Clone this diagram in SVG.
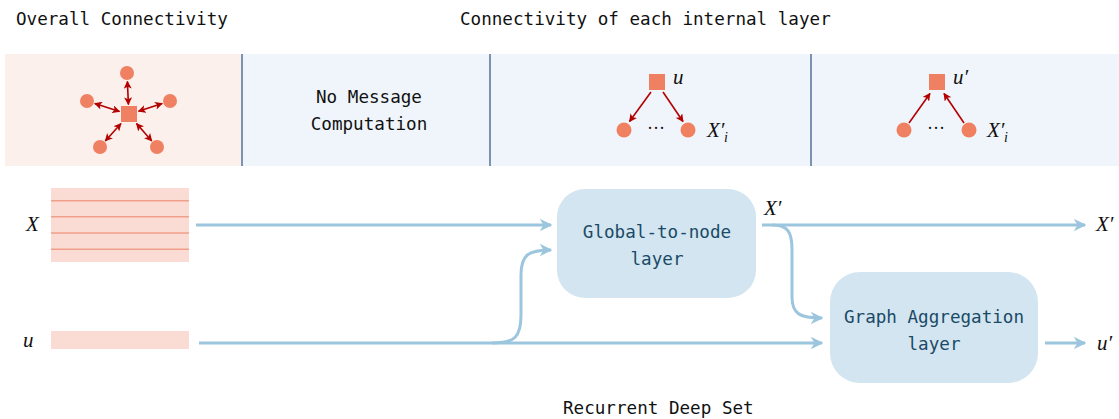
<svg xmlns="http://www.w3.org/2000/svg" width="1119" height="419" viewBox="0 0 1119 419">
<defs>
<style>
.mono{font-family:"DejaVu Sans Mono","Liberation Mono",monospace;font-size:17.6px;fill:#111;}
.box{font-family:"DejaVu Sans Mono","Liberation Mono",monospace;font-size:17.6px;fill:#1b4a66;text-anchor:middle;}
.math{font-family:"Liberation Serif","DejaVu Serif",serif;font-style:italic;font-size:21px;fill:#111;}
.sub{font-family:"Liberation Serif","DejaVu Serif",serif;font-style:italic;font-size:14px;fill:#111;}
.red{stroke:#b30000;stroke-width:1.6;fill:none;}
.blue{stroke:#9cc6dd;stroke-width:3;fill:none;}
.node{fill:#f08062;}
.div{stroke:#7b93b0;stroke-width:2;}
.row{stroke:#f0a08a;stroke-width:1.6;}
.layer{fill:#d2e5f0;}
</style>
<marker id="rh" viewBox="0 0 10 10" refX="9" refY="5" markerWidth="5" markerHeight="5" orient="auto-start-reverse" markerUnits="strokeWidth">
<path d="M0,0 L10,5 L0,10 L2.5,5 Z" fill="#b30000"/>
</marker>
<marker id="bh" viewBox="0 0 10 10" refX="9" refY="5" markerWidth="4.2" markerHeight="4.2" orient="auto" markerUnits="strokeWidth">
<path d="M0,0 L10,5 L0,10 L3,5 Z" fill="#9cc6dd"/>
</marker>
</defs>
<rect width="1119" height="419" fill="#ffffff"/>

<g id="headers">
<text class="mono" x="16" y="25">Overall Connectivity</text>
<text class="mono" x="460" y="25">Connectivity of each internal layer</text>
<text class="mono" x="563" y="414">Recurrent Deep Set</text>
</g>

<g id="panel-overall">
<rect x="5" y="54" width="237" height="112" fill="#fbf0eb"/>
<circle class="node" cx="127" cy="73" r="7"/>
<circle class="node" cx="87" cy="101" r="7"/>
<circle class="node" cx="170" cy="101" r="7"/>
<circle class="node" cx="100" cy="147" r="7"/>
<circle class="node" cx="157" cy="147" r="7"/>
<rect class="node" x="121" y="106" width="16" height="16"/>
<line class="red" x1="127.4" y1="81.5" x2="128.4" y2="104.5" marker-start="url(#rh)" marker-end="url(#rh)"/>
<line class="red" x1="94.8" y1="103.4" x2="119.5" y2="111.5" marker-start="url(#rh)" marker-end="url(#rh)"/>
<line class="red" x1="162.2" y1="103.5" x2="138.5" y2="111.2" marker-start="url(#rh)" marker-end="url(#rh)"/>
<line class="red" x1="105.3" y1="141" x2="121" y2="123.5" marker-start="url(#rh)" marker-end="url(#rh)"/>
<line class="red" x1="151.8" y1="141" x2="136.5" y2="123.5" marker-start="url(#rh)" marker-end="url(#rh)"/>
</g>

<g id="panel-nomsg">
<rect x="242" y="54" width="248" height="112" fill="#eff5fa"/>
<text class="mono" x="369" y="103" text-anchor="middle">No Message</text>
<text class="mono" x="369" y="130" text-anchor="middle">Computation</text>
</g>

<g id="panel-broadcast">
<rect x="490" y="54" width="321" height="112" fill="#eff5fa"/>
<rect class="node" x="649" y="74" width="16" height="16"/>
<circle class="node" cx="624" cy="130" r="7.5"/>
<circle class="node" cx="688" cy="130" r="7.5"/>
<text x="656" y="134" font-family="Liberation Serif,serif" font-size="18" fill="#111" text-anchor="middle">···</text>
<line class="red" x1="651" y1="92" x2="629.5" y2="121.5" marker-end="url(#rh)"/>
<line class="red" x1="663" y1="92" x2="683" y2="121.5" marker-end="url(#rh)"/>
<text class="math" x="673" y="84">u</text>
<text class="math" x="707" y="137">X′</text>
<text class="sub" x="724" y="142">i</text>
</g>

<g id="panel-aggregate">
<rect x="811" y="54" width="308" height="112" fill="#eff5fa"/>
<rect class="node" x="929" y="74" width="16" height="16"/>
<circle class="node" cx="904" cy="130" r="7.5"/>
<circle class="node" cx="969" cy="130" r="7.5"/>
<text x="936" y="134" font-family="Liberation Serif,serif" font-size="18" fill="#111" text-anchor="middle">···</text>
<line class="red" x1="909" y1="123" x2="930" y2="93.5" marker-end="url(#rh)"/>
<line class="red" x1="964" y1="123" x2="944" y2="93.5" marker-end="url(#rh)"/>
<text class="math" x="953" y="84">u′</text>
<text class="math" x="987" y="137">X′</text>
<text class="sub" x="1004" y="142">i</text>
</g>

<g id="dividers">
<line class="div" x1="242" y1="54" x2="242" y2="166"/>
<line class="div" x1="490" y1="54" x2="490" y2="166"/>
<line class="div" x1="811" y1="54" x2="811" y2="166"/>
</g>

<g id="input-X">
<rect x="51" y="188" width="138" height="74" fill="#fadcd4"/>
<line class="row" x1="51" y1="200.7" x2="189" y2="200.7"/>
<line class="row" x1="51" y1="216.8" x2="189" y2="216.8"/>
<line class="row" x1="51" y1="233" x2="189" y2="233"/>
<line class="row" x1="51" y1="249.2" x2="189" y2="249.2"/>
<text class="math" x="26" y="231">X</text>
</g>

<g id="input-u">
<rect x="51" y="331" width="138" height="18" fill="#fadcd4"/>
<text class="math" x="23" y="347">u</text>
</g>

<g id="global-to-node">
<rect class="layer" x="557" y="189" width="199" height="109" rx="28"/>
<text class="box" x="657" y="238">Global-to-node</text>
<text class="box" x="657" y="265">layer</text>
</g>

<g id="graph-aggregation">
<rect class="layer" x="830" y="272" width="208" height="111" rx="30"/>
<text class="box" x="934" y="323">Graph Aggregation</text>
<text class="box" x="934" y="350">layer</text>
</g>

<g id="connectors">
<path class="blue" d="M196,225 H551" marker-end="url(#bh)"/>
<path class="blue" d="M199,343 H822" marker-end="url(#bh)"/>
<path class="blue" d="M492,343 C515,343 521,337 521,315 V275 C521,255 528,250 551,250" marker-end="url(#bh)"/>
<path class="blue" d="M762,225 H1085" marker-end="url(#bh)"/>
<path class="blue" d="M772,225 C788,225 792,232 792,250 V297 C792,314 800,318 822,318" marker-end="url(#bh)"/>
<path class="blue" d="M1045,343 H1085" marker-end="url(#bh)"/>
</g>

<g id="output-labels">
<text class="math" x="764" y="215">X′</text>
<text class="math" x="1096" y="231">X′</text>
<text class="math" x="1097" y="350">u′</text>
</g>
</svg>
